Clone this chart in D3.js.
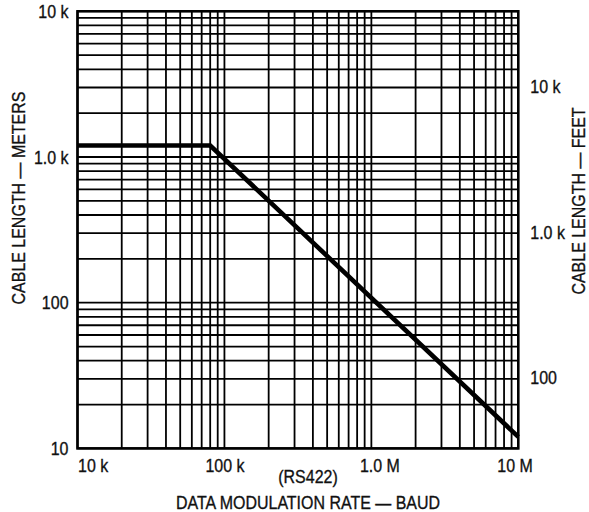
<!DOCTYPE html>
<html>
<head>
<meta charset="utf-8">
<script src="https://cdn.jsdelivr.net/npm/d3@7/dist/d3.min.js"></script>
<style>
  html, body { margin: 0; padding: 0; background: #fff; }
  svg { display: block; }
  text { font-family: "Liberation Sans", Arial, sans-serif; fill: #111; stroke: #111; stroke-width: 0.35px; }
</style>
</head>
<body>
<svg id="chart" width="589" height="512"></svg>
<script>
// ---- data ----
const rateBaud = [10000, 80000, 10000000];
const cableMeters = [1200, 1200, 12];
const xTickValues = [1e4, 1e5, 1e6, 1e7];
const xTickLabels = ["10 k", "100 k", "1.0 M", "10 M"];
const yTickValues = [10, 100, 1000, 10000];
const yTickLabels = ["10", "100", "1.0 k", "10 k"];
const feetTickValues = [100, 1000, 10000];
const feetTickLabels = ["100", "1.0 k", "10 k"];
const xTitle = "DATA MODULATION RATE \u2014 BAUD";
const xSubTitle = "(RS422)";
const yTitle = "CABLE LENGTH \u2014 METERS";
const y2Title = "CABLE LENGTH \u2014 FEET";
const M_PER_FT = 0.3048;

const svg = d3.select("#chart");
const L = 77.5, R = 518.3, T = 11.3, B = 448.4;

const x = d3.scaleLog().domain([1e4, 1e7]).range([L, R]);
const y = d3.scaleLog().domain([10, 1e4]).range([B, T]);
const yFt = d3.scaleLog().domain([10 / M_PER_FT, 1e4 / M_PER_FT]).range([B, T]);

// grid values
const xGrid = [];
for (let d = 1e4; d < 1e7; d *= 10) for (let k = 1; k <= 9; k++) xGrid.push(k * d);
const yGrid = [];
for (let d = 10; d < 1e4; d *= 10) for (let k = 1; k <= 9; k++) yGrid.push(k * d);

const g = svg.append("g");
g.selectAll("line.vx").data(xGrid).join("line")
  .attr("x1", d => x(d)).attr("x2", d => x(d))
  .attr("y1", T).attr("y2", B)
  .attr("stroke", "#000").attr("stroke-width", 1.8);
g.selectAll("line.hy").data(yGrid).join("line")
  .attr("y1", d => y(d)).attr("y2", d => y(d))
  .attr("x1", L).attr("x2", R)
  .attr("stroke", "#000").attr("stroke-width", 1.8);

g.append("rect").attr("x", L).attr("y", T).attr("width", R - L).attr("height", B - T)
  .attr("fill", "none").attr("stroke", "#000").attr("stroke-width", 2.6);

// data line
const line = d3.line().x(d => x(d[0])).y(d => y(d[1]));
g.append("path")
  .datum(rateBaud.map((r, i) => [r, cableMeters[i]]))
  .attr("d", line).attr("fill", "none").attr("stroke", "#000")
  .attr("stroke-width", 4.6).attr("stroke-linejoin", "miter");

const fs = 19;
// left axis
const ax = d3.axisLeft(y).tickValues(yTickValues).tickSize(0).tickPadding(9)
  .tickFormat((d, i) => yTickLabels[i]);
const gl = svg.append("g").attr("transform", `translate(${L},0)`).call(ax);
gl.select(".domain").remove();
gl.selectAll("text").attr("font-size", fs).attr("font-family", null);

// right axis (feet)
const axr = d3.axisRight(yFt).tickValues(feetTickValues).tickSize(0).tickPadding(12)
  .tickFormat((d, i) => feetTickLabels[i]);
const gr = svg.append("g").attr("transform", `translate(${R},0)`).call(axr);
gr.select(".domain").remove();
gr.selectAll("text").attr("font-size", fs).attr("font-family", null);

// bottom axis
const axb = d3.axisBottom(x).tickValues(xTickValues).tickSize(0).tickPadding(10)
  .tickFormat((d, i) => xTickLabels[i]);
const gb = svg.append("g").attr("transform", `translate(0,${B})`).call(axb);
gb.select(".domain").remove();
gb.selectAll("text").attr("font-size", fs).attr("font-family", null)
  .attr("text-anchor", (d, i) => i === 0 ? "start" : (i === xTickValues.length - 1 ? "end" : "middle"))
  .attr("dx", (d, i) => i === 2 ? 8 : (i === 3 ? 14 : 0));

// titles
svg.append("text").attr("x", 308).attr("y", 483).attr("text-anchor", "middle")
  .attr("font-size", fs).text(xSubTitle);
svg.append("text").attr("x", 308).attr("y", 509).attr("text-anchor", "middle")
  .attr("font-size", fs).text(xTitle);
svg.append("text").attr("transform", "translate(25,198) rotate(-90)")
  .attr("text-anchor", "middle").attr("font-size", fs).text(yTitle);
svg.append("text").attr("transform", "translate(585,201) rotate(-90)")
  .attr("text-anchor", "middle").attr("font-size", fs).text(y2Title);

// condense all text horizontally (narrow typeface look)
svg.selectAll("text").each(function () {
  const w = this.getComputedTextLength();
  d3.select(this).attr("textLength", w * 0.84).attr("lengthAdjust", "spacingAndGlyphs");
});
</script>
</body>
</html>
